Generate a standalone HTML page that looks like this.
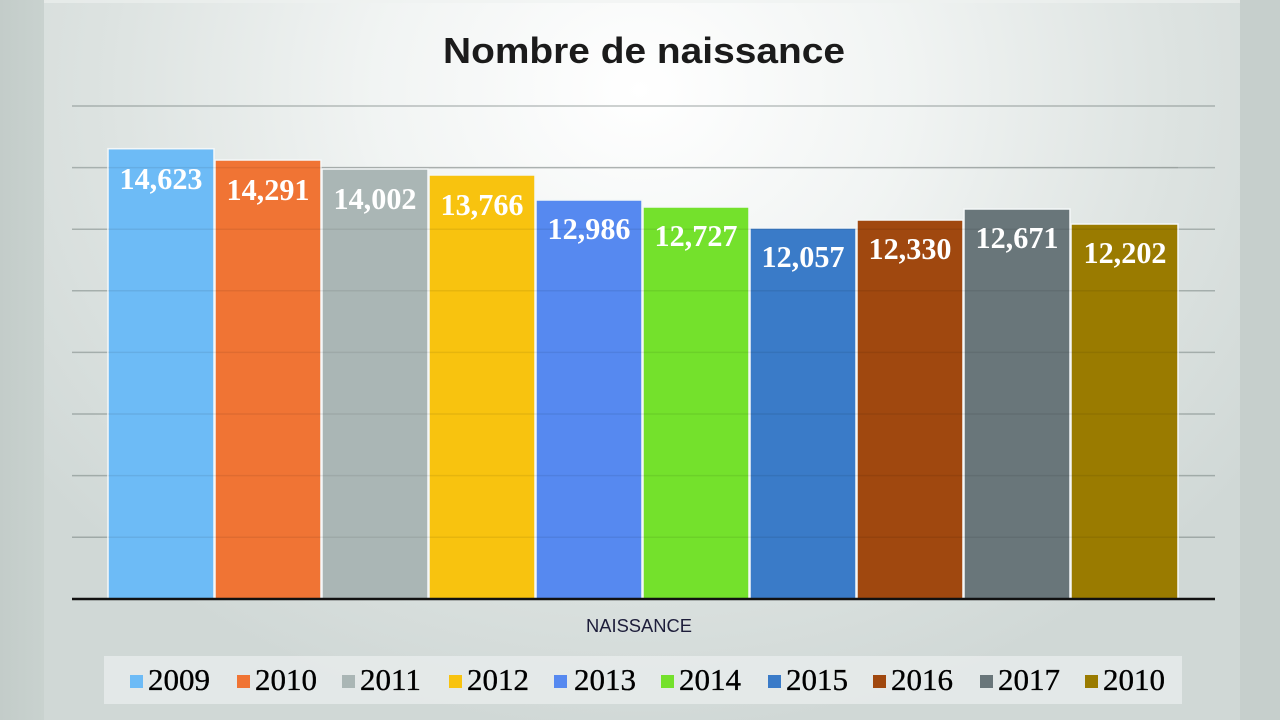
<!DOCTYPE html>
<html>
<head>
<meta charset="utf-8">
<style>
  html, body { margin: 0; padding: 0; }
  body { width: 1280px; height: 720px; overflow: hidden; background: #c7d0cd; }
  svg { display: block; }
</style>
</head>
<body>
<svg width="1280" height="720" viewBox="0 0 1280 720" xmlns="http://www.w3.org/2000/svg">
  <defs>
    <radialGradient id="bg" cx="640" cy="90" r="760" gradientUnits="userSpaceOnUse" gradientTransform="translate(640 90) scale(1 0.85) translate(-640 -90)">
      <stop offset="0" stop-color="#ffffff"/>
      <stop offset="0.35" stop-color="#f1f4f3"/>
      <stop offset="0.7" stop-color="#dde3e1"/>
      <stop offset="1" stop-color="#d0d8d6"/>
    </radialGradient>
    <linearGradient id="lstrip" x1="0" y1="0" x2="1" y2="0">
      <stop offset="0" stop-color="#c3ccc9"/>
      <stop offset="1" stop-color="#c9d2cf"/>
    </linearGradient>
  </defs>

  <!-- background -->
  <rect x="0" y="0" width="1280" height="720" fill="#c7d0cd"/>
  <rect x="0" y="0" width="44" height="720" fill="url(#lstrip)"/>
  <rect x="44" y="0" width="1196" height="720" fill="url(#bg)"/>
  <rect x="1240" y="0" width="40" height="720" fill="#c6cfcc"/>
  <rect x="44" y="0" width="1196" height="3" fill="#eef1f0" opacity="0.6"/>

  <!-- title -->
  <text x="644" y="63" text-anchor="middle" font-family="Liberation Sans, DejaVu Sans, sans-serif" font-weight="bold" font-size="36" fill="#1b1b1b" textLength="402" lengthAdjust="spacingAndGlyphs">Nombre de naissance</text>

  <!-- gridlines (under bars) -->
  <g stroke="rgba(70,82,80,0.35)" stroke-width="1.5">
    <line x1="72" y1="106" x2="1215" y2="106"/>
    <line x1="72" y1="167.6" x2="1215" y2="167.6"/>
    <line x1="72" y1="229.2" x2="1215" y2="229.2"/>
    <line x1="72" y1="290.8" x2="1215" y2="290.8"/>
    <line x1="72" y1="352.4" x2="1215" y2="352.4"/>
    <line x1="72" y1="414" x2="1215" y2="414"/>
    <line x1="72" y1="475.6" x2="1215" y2="475.6"/>
    <line x1="72" y1="537.2" x2="1215" y2="537.2"/>
  </g>

  <!-- bars -->
  <g stroke="#f4f7f8" stroke-width="1.5">
    <rect x="108" y="148.7" width="106" height="450.3" fill="#6dbbf6"/>
    <rect x="215" y="160" width="106" height="439" fill="#f07434"/>
    <rect x="322" y="169" width="106" height="430" fill="#aab6b5"/>
    <rect x="429" y="175" width="106" height="424" fill="#f8c30f"/>
    <rect x="536" y="200" width="106" height="399" fill="#5689f0"/>
    <rect x="643" y="207" width="106" height="392" fill="#74e12c"/>
    <rect x="750" y="228" width="106" height="371" fill="#3a7bc8"/>
    <rect x="857" y="220" width="106" height="379" fill="#a0480f"/>
    <rect x="964" y="209" width="106" height="390" fill="#69767a"/>
    <rect x="1071" y="224" width="107" height="375" fill="#9a7b00"/>
  </g>

  <!-- faint gridlines over bars -->
  <g stroke="rgba(0,0,0,0.07)" stroke-width="1.5">
    <line x1="108" y1="167.6" x2="1178" y2="167.6"/>
    <line x1="108" y1="229.2" x2="1178" y2="229.2"/>
    <line x1="108" y1="290.8" x2="1178" y2="290.8"/>
    <line x1="108" y1="352.4" x2="1178" y2="352.4"/>
    <line x1="108" y1="414" x2="1178" y2="414"/>
    <line x1="108" y1="475.6" x2="1178" y2="475.6"/>
    <line x1="108" y1="537.2" x2="1178" y2="537.2"/>
  </g>

  <!-- axis -->
  <line x1="72" y1="599" x2="1215" y2="599" stroke="#111" stroke-width="2.6"/>

  <!-- data labels -->
  <g font-family="Liberation Serif, DejaVu Serif, serif" font-weight="bold" font-size="31" fill="#ffffff" text-anchor="middle">
    <text x="161" y="189" textLength="83" lengthAdjust="spacingAndGlyphs">14,623</text>
    <text x="268" y="200" textLength="83" lengthAdjust="spacingAndGlyphs">14,291</text>
    <text x="375" y="209" textLength="83" lengthAdjust="spacingAndGlyphs">14,002</text>
    <text x="482" y="215" textLength="83" lengthAdjust="spacingAndGlyphs">13,766</text>
    <text x="589" y="239" textLength="83" lengthAdjust="spacingAndGlyphs">12,986</text>
    <text x="696" y="246" textLength="83" lengthAdjust="spacingAndGlyphs">12,727</text>
    <text x="803" y="267" textLength="83" lengthAdjust="spacingAndGlyphs">12,057</text>
    <text x="910" y="259" textLength="83" lengthAdjust="spacingAndGlyphs">12,330</text>
    <text x="1017" y="248" textLength="83" lengthAdjust="spacingAndGlyphs">12,671</text>
    <text x="1125" y="263" textLength="83" lengthAdjust="spacingAndGlyphs">12,202</text>
  </g>

  <!-- x-axis category label -->
  <text x="639" y="632" text-anchor="middle" font-family="Liberation Sans, DejaVu Sans, sans-serif" font-size="18" fill="#1d1d3a" textLength="106" lengthAdjust="spacingAndGlyphs">NAISSANCE</text>

  <!-- legend -->
  <rect x="104" y="656" width="1078" height="48" fill="#eaeeed" opacity="0.75"/>
  <g font-family="Liberation Serif, DejaVu Serif, serif" font-size="31" fill="#000" stroke="#000" stroke-width="0.35">
    <rect x="130" y="675" width="13" height="13" fill="#6dbbf6" stroke="none"/><text x="148" y="690">2009</text>
    <rect x="237" y="675" width="13" height="13" fill="#f07434" stroke="none"/><text x="255" y="690">2010</text>
    <rect x="342" y="675" width="13" height="13" fill="#aab6b5" stroke="none"/><text x="360" y="690">2011</text>
    <rect x="449" y="675" width="13" height="13" fill="#f8c30f" stroke="none"/><text x="467" y="690">2012</text>
    <rect x="554" y="675" width="13" height="13" fill="#5689f0" stroke="none"/><text x="574" y="690">2013</text>
    <rect x="661" y="675" width="13" height="13" fill="#74e12c" stroke="none"/><text x="679" y="690">2014</text>
    <rect x="768" y="675" width="13" height="13" fill="#3a7bc8" stroke="none"/><text x="786" y="690">2015</text>
    <rect x="873" y="675" width="13" height="13" fill="#a0480f" stroke="none"/><text x="891" y="690">2016</text>
    <rect x="980" y="675" width="13" height="13" fill="#69767a" stroke="none"/><text x="998" y="690">2017</text>
    <rect x="1085" y="675" width="13" height="13" fill="#9a7b00" stroke="none"/><text x="1103" y="690">2010</text>
  </g>
</svg>
</body>
</html>
